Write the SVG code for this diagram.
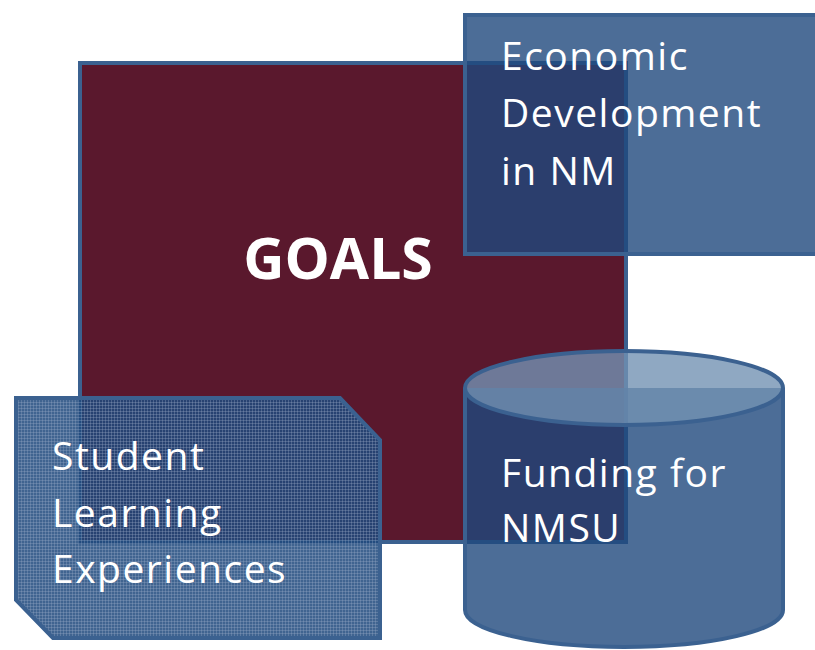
<svg xmlns="http://www.w3.org/2000/svg" width="815" height="650" viewBox="0 0 815 650">
<style>
.lbl{font-family:"Open Sans","Noto Sans","Liberation Sans",sans-serif;font-size:39px;letter-spacing:1.5px;fill:#ffffff}
.title{font-family:"Open Sans","Noto Sans","Liberation Sans",sans-serif;font-size:57px;font-weight:bold;fill:#ffffff}
.blue{fill:#1f497d;fill-opacity:0.8;stroke:#3b6190;stroke-width:4}
</style>
<defs>
<pattern id="grid" width="3" height="3" patternUnits="userSpaceOnUse">
<rect width="3" height="3" fill="#1f497d" fill-opacity="0.85"/>
<rect x="0" y="0" width="3" height="1" fill="#9fb2ca" fill-opacity="0.3"/>
<rect x="0" y="0" width="1" height="3" fill="#9fb2ca" fill-opacity="0.3"/>
</pattern>
</defs>
<rect width="815" height="650" fill="#ffffff"/>
<g id="goals">
<rect x="80" y="63" width="546" height="479" fill="#5a182d" stroke="#3b6190" stroke-width="4"/>
<text class="title" x="338" y="279" text-anchor="middle">GOALS</text>
</g>
<g id="economic">
<rect class="blue" x="465" y="15" width="360" height="239"/>
<text class="lbl" x="501" y="70">Economic</text>
<text class="lbl" x="501" y="127">Development</text>
<text class="lbl" x="501" y="185">in NM</text>
</g>
<g id="funding">
<path class="blue" d="M465,388 L465,610 A159,37 0 0 0 783,610 L783,388"/>
<ellipse cx="624" cy="388" rx="159" ry="37" fill="#7392b3" fill-opacity="0.8" stroke="#3b6190" stroke-width="4"/>
<text class="lbl" x="501" y="487">Funding for</text>
<text class="lbl" x="501" y="542">NMSU</text>
</g>
<g id="student">
<path d="M16,398 L340,398 L380,440 L380,638 L53,638 L16,600 Z" fill="url(#grid)" stroke="#3b6190" stroke-width="4"/>
<text class="lbl" x="52" y="470">Student</text>
<text class="lbl" x="52" y="527">Learning</text>
<text class="lbl" x="52" y="583">Experiences</text>
</g>
<g id="connectors"></g>
</svg>
